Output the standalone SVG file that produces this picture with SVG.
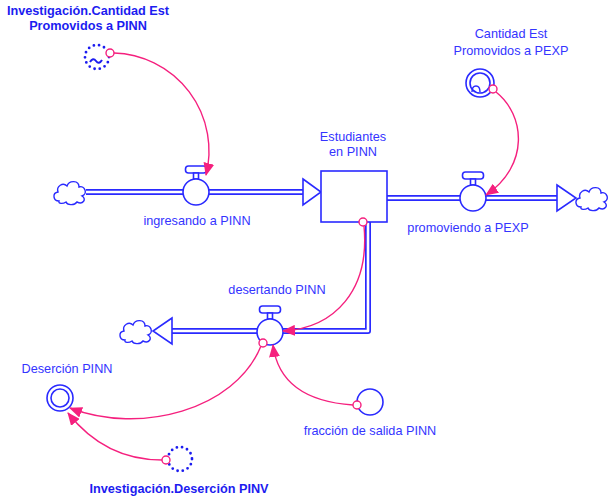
<svg xmlns="http://www.w3.org/2000/svg" width="608" height="500" viewBox="0 0 608 500">
  <style>
    .lbl { font-family: "Liberation Sans", Arial, sans-serif; font-size: 12.7px; fill: #3434ff; text-anchor: middle; }
    .bold { font-weight: bold; fill: #1c1cf0; }
    .pipe-out { fill: none; stroke: #2a2aff; stroke-width: 6; stroke-linejoin: round; }
    .pipe-in { fill: none; stroke: #ffffff; stroke-width: 2.6; stroke-linejoin: round; }
    .shape { fill: #ffffff; stroke: #2a2aff; stroke-width: 1.6; }
    .cloud { fill: #ffffff; stroke: #2a2aff; stroke-width: 1.4; }
    .link { fill: none; stroke: #f5207e; stroke-width: 1.4; }
    .tail { fill: #ffffff; stroke: #f5207e; stroke-width: 1.4; }
    .dots { fill: none; stroke: #1c1cf0; stroke-width: 2.8; stroke-linecap: round; stroke-dasharray: 0 5.3; }
  </style>
  <defs>
    <marker id="arrow" viewBox="0 0 13 11" refX="12" refY="5.5" markerWidth="13" markerHeight="11" markerUnits="userSpaceOnUse" orient="auto">
      <path d="M0,0 L13,5.5 L0,11 Z" fill="#f5207e"/>
    </marker>
    <path id="cloudShape" d="M-11,9 C-17,9 -18,1 -12,0 C-14,-6 -7,-10 -3,-6 C-1,-12 9,-12 9,-5 C15,-7 18,2 12,4 C17,7 13,13 7,10 C4,14 -3,13 -4,10 C-7,12 -12,12 -11,9 Z"/>
    <g id="valve">
      <rect x="-10.5" y="-26" width="21" height="7" rx="3" class="shape"/>
      <rect x="-2.5" y="-19" width="5" height="6" class="shape"/>
      <circle r="13" class="shape"/>
    </g>
  </defs>

  <!-- material flows (pipes) -->
  <g id="flows">
    <path class="pipe-out" d="M86,192 H304"/>
    <path class="pipe-in" d="M86,192 H305"/>
    <path class="pipe-out" d="M387,198 H558"/>
    <path class="pipe-in" d="M386,198 H559"/>
    <path class="pipe-out" d="M368,222 V331 H171"/>
    <path class="pipe-in" d="M368,221 V331 H170"/>
    <path class="shape" d="M303,179 L321,192 L303,205 Z"/>
    <path class="shape" d="M557,185 L576,198 L557,211 Z"/>
    <path class="shape" d="M172,318 L153,331 L172,344 Z"/>
  </g>

  <g id="cloud-source">
    <use href="#cloudShape" class="cloud" transform="translate(70,192)"/>
  </g>
  <g id="cloud-sink-pexp">
    <use href="#cloudShape" class="cloud" transform="translate(592,198)"/>
  </g>
  <g id="cloud-sink-desercion">
    <use href="#cloudShape" class="cloud" transform="translate(136,331)"/>
  </g>

  <g id="stock-estudiantes">
    <rect x="321" y="171" width="66" height="51" class="shape"/>
    <text class="lbl" x="353" y="141">Estudiantes</text>
    <text class="lbl" x="353" y="156">en PINN</text>
  </g>

  <g id="valve-ingresando">
    <use href="#valve" transform="translate(196,192)"/>
    <text class="lbl" x="197" y="225">ingresando a PINN</text>
  </g>

  <g id="valve-promoviendo">
    <use href="#valve" transform="translate(473,198)"/>
    <text class="lbl" x="468" y="232">promoviendo a PEXP</text>
  </g>

  <g id="valve-desertando">
    <use href="#valve" transform="translate(270,332)"/>
    <text class="lbl" x="277" y="294">desertando PINN</text>
  </g>

  <g id="shadow-cantidad-pinn">
    <circle cx="97" cy="57" r="12" class="dots"/>
    <path d="M90,62 q3,-5 6,-1 q3,4 6,-1" fill="none" stroke="#1c1cf0" stroke-width="2"/>
    <text class="lbl bold" x="88" y="15">Investigación.Cantidad Est</text>
    <text class="lbl bold" x="88" y="30">Promovidos a PINN</text>
  </g>

  <g id="aux-cantidad-pexp">
    <circle cx="480" cy="83" r="14" class="shape"/>
    <circle cx="480" cy="83" r="10" class="shape"/>
    <path d="M472,92 q0,-6 4,-6 q4,0 4,6" fill="none" stroke="#2a2aff" stroke-width="1.4"/>
    <text class="lbl" x="511" y="38">Cantidad Est</text>
    <text class="lbl" x="511" y="55">Promovidos a PEXP</text>
  </g>

  <g id="aux-desercion-pinn">
    <circle cx="60" cy="398" r="13" class="shape"/>
    <circle cx="60" cy="398" r="9" class="shape"/>
    <text class="lbl" x="67" y="373">Deserción PINN</text>
  </g>

  <g id="shadow-desercion-pinv">
    <circle cx="180" cy="459" r="12" class="dots"/>
    <text class="lbl bold" x="179" y="493">Investigación.Deserción PINV</text>
  </g>

  <g id="aux-fraccion">
    <circle cx="370" cy="402" r="13" class="shape"/>
    <text class="lbl" x="370" y="435">fracción de salida PINN</text>
  </g>

  <!-- information links -->
  <g id="links">
    <path class="link" marker-end="url(#arrow)" d="M114,53 A98,98 0 0 1 206,175"/>
    <path class="link" marker-end="url(#arrow)" d="M496,92 C525,115 530,165 486,195"/>
    <path class="link" marker-end="url(#arrow)" d="M364,226 C370,290 335,328 283,331"/>
    <path class="link" marker-end="url(#arrow)" d="M261,346 C235,410 140,435 70,408"/>
    <path class="link" marker-end="url(#arrow)" d="M353,405 Q280,400 273,345"/>
    <path class="link" marker-end="url(#arrow)" d="M162,460 Q105,460 68,413"/>
    <circle cx="110" cy="53" r="4" class="tail"/>
    <circle cx="493" cy="89" r="4" class="tail"/>
    <circle cx="363" cy="222" r="4" class="tail"/>
    <circle cx="263" cy="343" r="4" class="tail"/>
    <circle cx="357" cy="405" r="4" class="tail"/>
    <circle cx="166" cy="460" r="4" class="tail"/>
  </g>
</svg>
